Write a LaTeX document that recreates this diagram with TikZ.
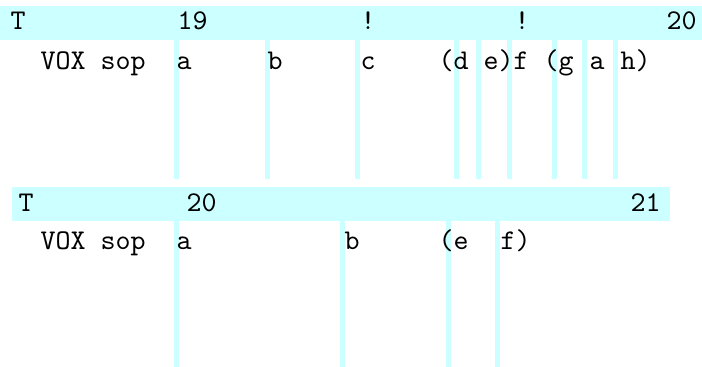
\documentclass[tikz,border=0pt]{standalone}
\usetikzlibrary{positioning}
\definecolor{lightcyan}{RGB}{204,255,255}

\begin{document}
\begin{tikzpicture}[
    x=0.35pt, y=-0.35pt,
    band/.style={fill=lightcyan},
    bar/.style={fill=lightcyan},
    txt/.style={font=\ttfamily, anchor=base west, inner sep=0pt},
]
\useasboundingbox (0,0) rectangle (702,367);

% first system
\fill[band] (0,6) rectangle (702,40);
\fill[bar] (174,40) rectangle (179,179);
\fill[bar] (265,40) rectangle (270,179);
\fill[bar] (355,40) rectangle (360,179);
\fill[bar] (454,40) rectangle (459,179);
\fill[bar] (476,40) rectangle (481,179);
\fill[bar] (507,40) rectangle (512,179);
\fill[bar] (552,40) rectangle (557,179);
\fill[bar] (582,40) rectangle (587,179);
\fill[bar] (613,40) rectangle (618,179);

\node[txt] (t_a) at (10,30) {T};
\node[txt] (m19_a) at (177,30) {19};
\node[txt] (bang_a) at (360,30) {!};
\node[txt] (bang_b) at (514,30) {!};
\node[txt] (m20_a) at (666,30) {20};

\node[txt] (vox_a) at (40,70) {VOX sop};
\node[txt] (a_a) at (176,70) {a};
\node[txt] (b_a) at (267,70) {b};
\node[txt] (c_a) at (360,70) {c};
\node[txt] (d_a) at (438,70) {(d};
\node[txt] (e_a) at (483,70) {e)};
\node[txt] (f_a) at (513,70) {f};
\node[txt] (g_a) at (543,70) {(g};
\node[txt] (a_b) at (589,70) {a};
\node[txt] (h_a) at (620,70) {h)};

% second system
\fill[band] (12,187) rectangle (670,221);
\fill[bar] (174,221) rectangle (179,367);
\fill[bar] (340,221) rectangle (345,367);
\fill[bar] (446,221) rectangle (451,367);
\fill[bar] (495,221) rectangle (500,367);

\node[txt] (t_b) at (18,212) {T};
\node[txt] (m20_b) at (186,212) {20};
\node[txt] (m21_b) at (630,212) {21};

\node[txt] (vox_b) at (40,250) {VOX sop};
\node[txt] (a_c) at (176,250) {a};
\node[txt] (b_b) at (344,250) {b};
\node[txt] (e_b) at (438,250) {(e};
\node[txt] (f_b) at (500,250) {f)};

\end{tikzpicture}
\end{document}
